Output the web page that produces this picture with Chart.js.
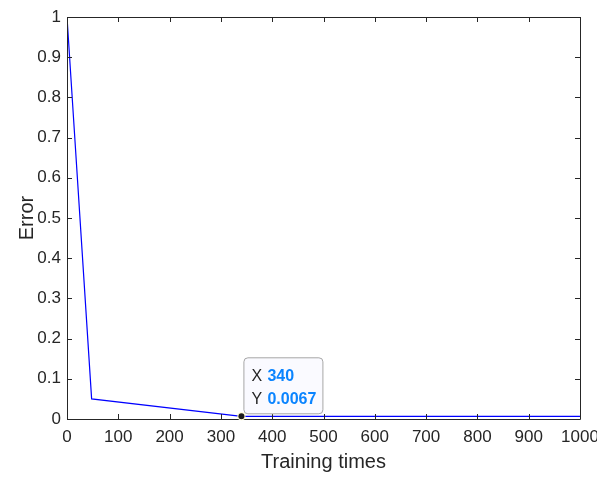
<!DOCTYPE html>
<html>
<head>
<meta charset="utf-8">
<script src="https://cdn.jsdelivr.net/npm/chart.js@4"></script>
<style>
  html, body { margin: 0; padding: 0; background: #fff; }
  #wrap { width: 597px; height: 477px; }
</style>
</head>
<body>
<div id="wrap"><canvas id="chartErr" width="597" height="477"></canvas></div>
<script>
// data
const trainingTimes = [0, 48, 340, 1000];
const errorValues = [1, 0.05, 0.0067, 0.0067];
const tipX = 340;
const tipY = 0.0067;
const xTicks = [0, 100, 200, 300, 400, 500, 600, 700, 800, 900, 1000];
const yTicks = [0, 0.1, 0.2, 0.3, 0.4, 0.5, 0.6, 0.7, 0.8, 0.9, 1];

const axisColor = "#262626";
const fontFam = "'Liberation Sans', Arial, Helvetica, sans-serif";

// box + inward ticks like matlab axes, plus the datatip
const matlabAxes = {
  id: "matlabAxes",
  afterDatasetsDraw(chart) {
    const { ctx, chartArea: a, scales } = chart;
    const x = scales.x, y = scales.y;
    ctx.save();
    ctx.strokeStyle = axisColor;
    ctx.lineWidth = 1;
    ctx.beginPath();
    ctx.rect(Math.round(a.left) + 0.5, Math.round(a.top) + 0.5, Math.round(a.right - a.left), Math.round(a.bottom - a.top));
    ctx.stroke();
    const tl = 5;
    ctx.beginPath();
    xTicks.forEach((v) => {
      const px = Math.round(x.getPixelForValue(v)) + 0.5;
      ctx.moveTo(px, a.bottom); ctx.lineTo(px, a.bottom - tl);
      ctx.moveTo(px, a.top); ctx.lineTo(px, a.top + tl);
    });
    yTicks.forEach((v) => {
      const py = Math.round(y.getPixelForValue(v)) + 0.5;
      ctx.moveTo(a.left, py); ctx.lineTo(a.left + tl, py);
      ctx.moveTo(a.right, py); ctx.lineTo(a.right - tl, py);
    });
    ctx.stroke();

    // datatip
    const mx = x.getPixelForValue(tipX), my = y.getPixelForValue(tipY);
    const bx = mx + 2, by = my - 59, bw = 79, bh = 56, r = 4;
    ctx.fillStyle = "rgba(250,250,255,0.97)";
    ctx.strokeStyle = "#a6a6a6";
    ctx.beginPath();
    ctx.roundRect(bx + 0.5, by + 0.5, bw, bh, r);
    ctx.fill();
    ctx.stroke();
    ctx.font = "16px " + fontFam;
    ctx.textBaseline = "middle";
    ctx.fillStyle = "#262626";
    ctx.fillText("X", bx + 8, by + 19);
    ctx.fillText("Y", bx + 8, by + 42);
    ctx.font = "bold 16px " + fontFam;
    ctx.fillStyle = "#0a84ff";
    ctx.fillText(String(tipX), bx + 24, by + 19);
    ctx.fillText(String(tipY), bx + 24, by + 42);
    ctx.beginPath();
    ctx.arc(mx, my, 4, 0, Math.PI * 2);
    ctx.fillStyle = "#fffbd0";
    ctx.fill();
    ctx.beginPath();
    ctx.arc(mx, my, 3, 0, Math.PI * 2);
    ctx.fillStyle = "#1a1a1a";
    ctx.fill();
    ctx.restore();
  },
};

const ctx = document.getElementById("chartErr").getContext("2d");
new Chart(ctx, {
  type: "line",
  data: {
    datasets: [
      {
        label: "Error",
        data: trainingTimes.map((t, i) => ({ x: t, y: errorValues[i] })),
        borderColor: "#0000ff",
        borderWidth: 1.2,
        pointRadius: 0,
        tension: 0,
        fill: false,
      },
    ],
  },
  options: {
    responsive: false,
    animation: false,
    layout: { padding: { top: 17, right: 17, left: 0, bottom: 0 } },
    plugins: { legend: { display: false }, tooltip: { enabled: false } },
    scales: {
      x: {
        type: "linear",
        min: 0,
        max: 1000,
        afterBuildTicks: (s) => { s.ticks = xTicks.map((v) => ({ value: v })); },
        afterFit: (s) => { s.height = 58; s.paddingLeft = 0; s.paddingRight = 0; },
        grid: { display: false, drawTicks: false },
        border: { display: false },
        ticks: { color: axisColor, font: { size: 17, family: fontFam }, padding: 8, maxRotation: 0, callback: (v) => String(v) },
        title: { display: true, text: "Training times", color: axisColor, font: { size: 20, family: fontFam }, padding: { top: 0, bottom: 3 } },
      },
      y: {
        type: "linear",
        min: 0,
        max: 1,
        afterBuildTicks: (s) => { s.ticks = yTicks.map((v) => ({ value: v })); },
        afterFit: (s) => { s.width = 67; s.paddingTop = 0; s.paddingBottom = 0; },
        grid: { display: false, drawTicks: false },
        border: { display: false },
        ticks: { color: axisColor, font: { size: 17, family: fontFam }, padding: 6, callback: (v) => String(Math.round(v * 10) / 10) },
        title: { display: true, text: "Error", color: axisColor, font: { size: 20, family: fontFam }, padding: { top: 15, bottom: 0 } },
      },
    },
  },
  plugins: [matlabAxes],
});
</script>
</body>
</html>
